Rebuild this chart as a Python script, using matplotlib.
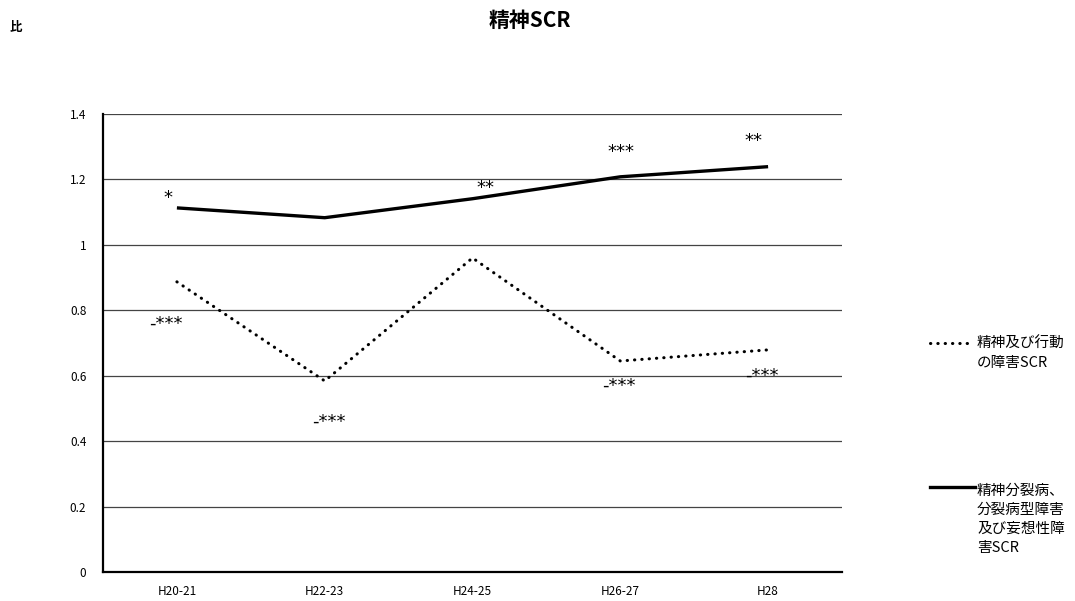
#!/usr/bin/env python

import matplotlib

matplotlib.use('agg')

import matplotlib.pyplot as plt

plt.rcParams['font.family'] = ['Noto Sans CJK JP', 'DejaVu Sans']

periods = ['H20-21', 'H22-23', 'H24-25', 'H26-27', 'H28']
mental = [0.887, 0.584, 0.960, 0.645, 0.679]
schizo = [1.113, 1.083, 1.141, 1.208, 1.239]
mental_sig = ['-***', '-***', '', '-***', '-***']
schizo_sig = ['*', '', '**', '***', '**']
yticks = [0, 0.2, 0.4, 0.6, 0.8, 1, 1.2, 1.4]
ytick_labels = ['0', '0.2', '0.4', '0.6', '0.8', '1', '1.2', '1.4']
mental_label = '精神及び行動\nの障害SCR'
schizo_label = '精神分裂病、\n分裂病型障害\n及び妄想性障\n害SCR'

# label offsets in pixels from each point
mental_off = [(-11, -42), (4, -41), (0, 0), (-1, -25), (-6, -26)]
schizo_off = [(-9, 10), (0, 0), (13, 11), (1, 25), (-15, 26)]


def main():
    fig = plt.figure(figsize=(10.75, 6.01), dpi=100)
    ax = fig.add_axes([103 / 1075, 29 / 601, 739 / 1075, 458 / 601])
    x = range(len(periods))

    ax.plot(x, mental, color='black', lw=2.2, linestyle=(0, (0.1, 2.3)),
            dash_capstyle='round')
    ax.plot(x, schizo, color='black', lw=2.4, solid_capstyle='butt')

    for i, (v, s) in enumerate(zip(mental, mental_sig)):
        if s:
            ax.annotate(s, (i, v), xytext=mental_off[i], textcoords='offset pixels',
                        ha='center', va='center', fontsize=13,
                        family='DejaVu Sans')
    for i, (v, s) in enumerate(zip(schizo, schizo_sig)):
        if s:
            ax.annotate(s, (i, v), xytext=schizo_off[i], textcoords='offset pixels',
                        ha='center', va='center', fontsize=13,
                        family='DejaVu Sans')

    ax.set_xlim(-0.5, len(periods) - 0.5)
    ax.set_ylim(0, 1.4)
    ax.set_yticks(yticks)
    ax.set_yticklabels(ytick_labels)
    ax.set_xticks(list(x))
    ax.set_xticklabels(periods)
    ax.tick_params(length=0, labelsize=8.5, pad=12)
    ax.tick_params(axis='x', pad=9.5)
    ax.grid(axis='y', color='#444444', lw=0.9)
    ax.set_axisbelow(True)
    for side in ('top', 'right'):
        ax.spines[side].set_visible(False)
    for side in ('left', 'bottom'):
        ax.spines[side].set_linewidth(1.6)

    # legend drawn in figure coordinates
    fig.lines.append(plt.Line2D([930 / 1075, 968 / 1075], [1 - 343 / 601] * 2,
                                color='black', lw=2.2, linestyle=(0, (0.1, 2.3)),
                                dash_capstyle='round', transform=fig.transFigure))
    fig.text(977 / 1075, 1 - 337 / 601, mental_label, fontsize=10.5, va='top',
             linespacing=1.45)
    fig.lines.append(plt.Line2D([930 / 1075, 975 / 1075], [1 - 487 / 601] * 2,
                                color='black', lw=2.4, transform=fig.transFigure))
    fig.text(977 / 1075, 1 - 484 / 601, schizo_label, fontsize=10.5, va='top',
             linespacing=1.45)

    fig.text(530 / 1075, 1 - 20 / 601, '精神SCR', fontsize=15, weight='bold',
             ha='center', va='center')
    fig.text(10 / 1075, 1 - 27 / 601, '比', fontsize=9, weight='bold',
             va='center')

    fig.savefig('out.png', dpi=100)


if __name__ == '__main__':
    main()
